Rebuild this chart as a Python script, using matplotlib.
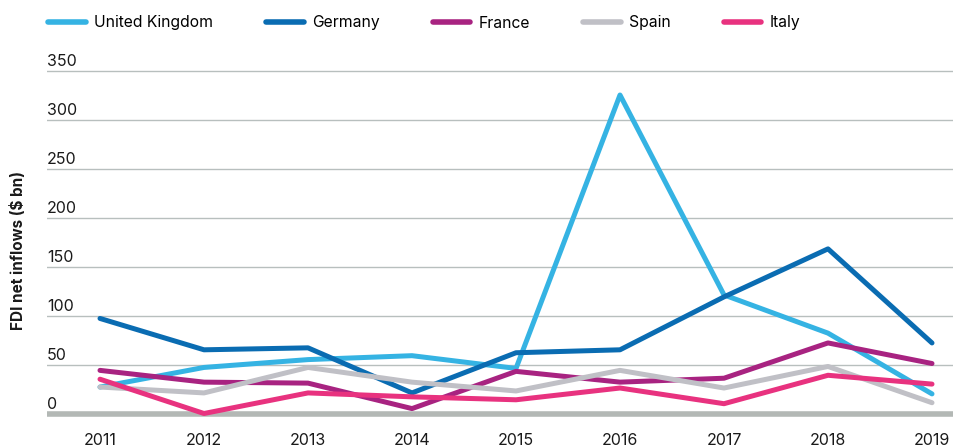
import matplotlib
matplotlib.use('Agg')
from matplotlib import pyplot as plt

plt.rcParams['font.family'] = ['Inter', 'DejaVu Sans']

years = [2011, 2012, 2013, 2014, 2015, 2016, 2017, 2018, 2019]
countries = ['United Kingdom', 'Germany', 'France', 'Spain', 'Italy']
uk = [27, 47, 55, 59, 46, 325, 121, 82, 20]
germany = [97, 65, 67, 21, 62, 65, 119, 168, 72]
france = [44, 32, 31, 5, 43, 32, 36, 72, 51]
spain = [27, 21, 47, 32, 23, 44, 26, 48, 11]
italy = [35, 0, 21, 17, 14, 26, 10, 39, 30]
yticks = [0, 50, 100, 150, 200, 250, 300, 350]

colors = ['#35b3e3', '#0a6cb2', '#a82381', '#c0c0c6', '#e8327f']
grid_color = '#b8bfbe'

W, H = 954, 448
fig = plt.figure(figsize=(W / 100, H / 100), dpi=100)

# axes placed in pixel terms: left 47, right 954, top 60, bottom 420
left, right, top, bottom = 47, 954, 60, 420
ax = fig.add_axes([left / W, 1 - bottom / H, (right - left) / W, (bottom - top) / H])

px_per_year = 104
px_per_unit = 0.98
ax.set_xlim(2011 - 53 / px_per_year, 2019 + 22 / px_per_year)
ax.set_ylim((413.5 - bottom) / px_per_unit, (413.5 - top) / px_per_unit)

for v in yticks:
    if v == 0:
        ax.axhline(0, color='#b3b8b5', lw=4, zorder=1)
    else:
        ax.axhline(v, color=grid_color, lw=1.0, zorder=1)
    ax.text(0, v + 2, str(v), transform=ax.get_yaxis_transform(), ha='left',
            va='bottom', fontsize=11.5, color='#1a1a1a')

series = [uk, germany, france, spain, italy]
order = [3, 4, 2, 0, 1]
lines = {}
for i in order:
    ln, = ax.plot(years, series[i], color=colors[i], lw=3.6, label=countries[i],
                  solid_joinstyle='round', solid_capstyle='round', zorder=3 + i,
                  clip_on=False)
    lines[i] = ln

ax.set_xticks(years)
ax.set_xticklabels([str(y) for y in years], fontsize=11.5, color='#1a1a1a')
ax.tick_params(axis='x', length=0, pad=9)
ax.set_yticks([])
for s in ax.spines.values():
    s.set_visible(False)

fig.text(18 / W, 1 - 250 / H, 'FDI net inflows ($ bn)', rotation=90, ha='center',
         va='center', fontsize=11, fontweight='bold', color='#1a1a1a')

leg = fig.legend([lines[i] for i in range(5)], countries, loc='center left',
                 bbox_to_anchor=(42 / W, 1 - 23 / H), ncol=5, frameon=False,
                 fontsize=11.3, handlelength=2.4, handletextpad=0.5,
                 columnspacing=3.4, borderaxespad=0)
for h in leg.get_lines():
    h.set_linewidth(4)
    h.set_solid_capstyle('round')

fig.savefig('out.png', dpi=100)
